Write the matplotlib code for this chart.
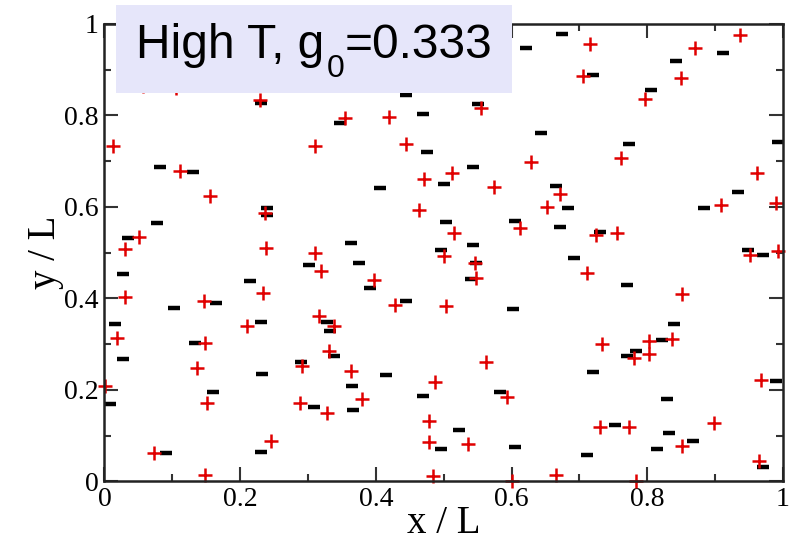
import numpy as np
import matplotlib
matplotlib.use("Agg")
from matplotlib import pyplot as plt
from matplotlib.patches import Rectangle
from matplotlib.ticker import MultipleLocator
from matplotlib.transforms import offset_copy

# positive charges (x/L, y/L)
plus_x = [0.229, 0.354, 0.420, 0.0125, 0.311, 0.445, 0.111, 0.471, 0.512, 0.057,
          0.105, 0.501, 0.715, 0.871, 0.937, 0.705, 0.850, 0.796, 0.555, 0.761,
          0.628, 0.961, 0.156, 0.051, 0.030, 0.030, 0.018, 0.147, 0.236, 0.238,
          0.234, 0.210, 0.148, 0.311, 0.319, 0.397, 0.428, 0.316, 0.339, 0.463,
          0.501, 0.504, 0.574, 0.671, 0.652, 0.515, 0.612, 0.725, 0.756, 0.546,
          0.547, 0.711, 0.851, 0.836, 0.803, 0.803, 0.734, 0.909, 0.990, 0.952,
          0.992, 0.073, 0.136, 0.151, 0.148, 0.245, 0.331, 0.291, 0.363, 0.379,
          0.288, 0.328, 0.487, 0.479, 0.479, 0.484, 0.562, 0.593, 0.536, 0.601,
          0.666, 0.781, 0.730, 0.773, 0.784, 0.851, 0.898, 0.968, 0.964, 0.001]
plus_y = [0.834, 0.795, 0.797, 0.733, 0.733, 0.738, 0.678, 0.661, 0.674, 0.864,
          0.860, 0.867, 0.956, 0.948, 0.976, 0.886, 0.882, 0.836, 0.816, 0.707,
          0.698, 0.674, 0.624, 0.534, 0.508, 0.403, 0.314, 0.395, 0.587, 0.510,
          0.412, 0.340, 0.303, 0.499, 0.460, 0.440, 0.386, 0.362, 0.340, 0.593,
          0.493, 0.384, 0.644, 0.628, 0.600, 0.543, 0.554, 0.539, 0.543, 0.478,
          0.445, 0.456, 0.410, 0.311, 0.307, 0.279, 0.301, 0.604, 0.609, 0.495,
          0.504, 0.062, 0.248, 0.172, 0.014, 0.089, 0.285, 0.252, 0.242, 0.180,
          0.172, 0.150, 0.217, 0.132, 0.086, 0.012, 0.261, 0.185, 0.082, 0.001,
          0.014, 0.270, 0.119, 0.119, 0.001, 0.078, 0.128, 0.222, 0.045, 0.209]

# negative charges
minus_x = [0.231, 0.347, 0.469, 0.445, 0.476, 0.082, 0.130, 0.675, 0.621, 0.843,
           0.911, 0.720, 0.805, 0.551, 0.644, 0.773, 0.543, 0.992, 0.077, 0.035,
           0.027, 0.015, 0.102, 0.164, 0.239, 0.239, 0.214, 0.230, 0.301, 0.363,
           0.375, 0.391, 0.445, 0.328, 0.332, 0.406, 0.500, 0.504, 0.496, 0.666,
           0.683, 0.605, 0.672, 0.731, 0.543, 0.547, 0.540, 0.692, 0.770, 0.602,
           0.840, 0.933, 0.883, 0.949, 0.970, 0.027, 0.008, 0.091, 0.133, 0.160,
           0.232, 0.231, 0.339, 0.290, 0.365, 0.366, 0.309, 0.415, 0.469, 0.496,
           0.583, 0.522, 0.605, 0.711, 0.720, 0.770, 0.784, 0.821, 0.753, 0.829,
           0.832, 0.815, 0.867, 0.990, 0.970]
minus_y = [0.827, 0.783, 0.803, 0.845, 0.720, 0.687, 0.677, 0.978, 0.948, 0.919,
           0.937, 0.889, 0.856, 0.825, 0.762, 0.738, 0.687, 0.742, 0.565, 0.532,
           0.454, 0.344, 0.379, 0.390, 0.598, 0.583, 0.438, 0.349, 0.473, 0.521,
           0.478, 0.423, 0.395, 0.349, 0.329, 0.642, 0.650, 0.567, 0.506, 0.646,
           0.598, 0.569, 0.556, 0.545, 0.517, 0.478, 0.443, 0.489, 0.430, 0.377,
           0.344, 0.633, 0.598, 0.506, 0.495, 0.268, 0.169, 0.062, 0.303, 0.196,
           0.235, 0.064, 0.274, 0.261, 0.209, 0.156, 0.163, 0.233, 0.187, 0.071,
           0.196, 0.113, 0.075, 0.058, 0.239, 0.274, 0.285, 0.309, 0.123, 0.180,
           0.106, 0.071, 0.089, 0.220, 0.032]

tick_labels = ['0', '0.2', '0.4', '0.6', '0.8', '1']

fig = plt.figure(figsize=(7.94, 5.41), dpi=100)
ax = fig.add_axes([0.1316, 0.110, 0.8545, 0.8458])

ax.plot(minus_x, minus_y, ls='none', marker='_', ms=9, mew=3.2,
        color='black', clip_on=False)
ax.plot(plus_x, plus_y, ls='none', marker='+', ms=10, mew=1.8,
        color='#e00000', clip_on=False)

ax.set_xlim(0, 1)
ax.set_ylim(0, 1)
ax.set_xticks(np.arange(0, 1.01, 0.2))
ax.set_yticks(np.arange(0, 1.01, 0.2))
ax.xaxis.set_minor_locator(MultipleLocator(0.1))
ax.yaxis.set_minor_locator(MultipleLocator(0.1))
ax.set_xticklabels(tick_labels)
ax.set_yticklabels(tick_labels)
ax.tick_params(which='both', direction='in', top=True, right=True,
               color='#333333', width=1.5)
ax.tick_params(which='major', length=10, pad=4,
               labelsize=20, labelfontfamily='Liberation Serif')
ax.tick_params(which='minor', length=5)
for s in ax.spines.values():
    s.set_linewidth(1.8)
    s.set_color('#222222')

ax.set_xlabel('x / L', fontsize=28, family='Liberation Serif', labelpad=-5)
ax.set_ylabel('y / L', fontsize=28, family='Liberation Serif', labelpad=0)

# annotation box over the top-left of the plot
fig.patches.append(Rectangle((116 / 794, 1 - 93 / 541), 396 / 794, 88 / 541,
                             transform=fig.transFigure, facecolor='#e6e6fa',
                             edgecolor='none', zorder=5))

# label with a hand-placed subscript
renderer = fig.canvas.get_renderer()
x0, y0 = 136 / 794, 1 - 58 / 541
t1 = fig.text(x0, y0, 'High T, g', fontsize=34.5, family='Liberation Sans',
              va='baseline', ha='left', zorder=6)
w1 = t1.get_window_extent(renderer).width
t2 = fig.text(x0, y0, '0', fontsize=23, family='Liberation Sans',
              va='baseline', ha='left', zorder=6,
              transform=offset_copy(fig.transFigure, fig=fig,
                                    x=w1 + 2, y=-19, units='dots'))
w2 = t2.get_window_extent(renderer).width
fig.text(x0, y0, '=0.333', fontsize=34.5, family='Liberation Sans',
         va='baseline', ha='left', zorder=6,
         transform=offset_copy(fig.transFigure, fig=fig,
                               x=w1 + w2 + 3, y=0, units='dots'))

fig.savefig('out.png', dpi=100)
